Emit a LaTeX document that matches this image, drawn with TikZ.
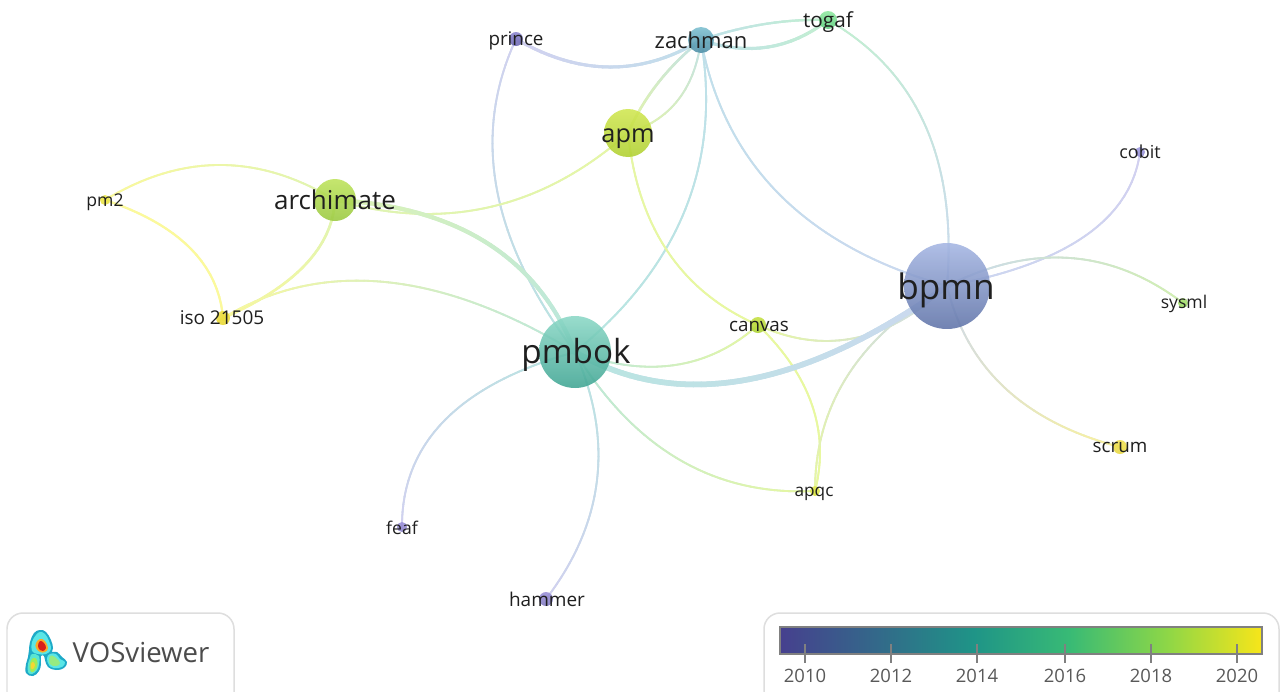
\documentclass[tikz,border=0pt]{standalone}
\usepackage{fontspec}
\setmainfont{Open Sans}
\usetikzlibrary{calc,decorations.markings}
\pgfdeclarelayer{back}
\pgfdeclarelayer{edges}
\pgfsetlayers{back,edges,main}
\pgfdeclarehorizontalshading{viridisbar}{100bp}{
  rgb(0bp)=(0.275,0.251,0.557);
  rgb(25bp)=(0.275,0.251,0.557);
  rgb(35bp)=(0.2,0.41,0.54);
  rgb(45bp)=(0.12,0.58,0.53);
  rgb(55bp)=(0.22,0.73,0.46);
  rgb(65bp)=(0.55,0.84,0.28);
  rgb(75bp)=(0.97,0.9,0.1);
  rgb(100bp)=(0.97,0.9,0.1)}
% edge tones
\definecolor{ePurple}{HTML}{D2D0F0}
\definecolor{eBlue}{HTML}{CCD8F0}
\definecolor{eSky}{HTML}{C0E0EA}
\definecolor{eTeal}{HTML}{B8E6E0}
\definecolor{eMint}{HTML}{C2F0D0}
\definecolor{eLime}{HTML}{DEF4B4}
\definecolor{eApm}{HTML}{E6F6A6}
\definecolor{eCanvas}{HTML}{E8F8A0}
\definecolor{eYellow}{HTML}{FBF99C}
\definecolor{eSys}{HTML}{D2F0B0}
\definecolor{eScrum}{HTML}{FAF29C}
\newcommand{\dotnode}[6]{% name, x, y, radius, top, bottom
  \definecolor{dottop}{HTML}{#5}\definecolor{dotbot}{HTML}{#6}%
  \node[dot,minimum size=#4*0.04cm,top color=dottop,bottom color=dotbot] (#1) at (#2,#3) {};}
\newcommand{\lbl}[5]{% name, x, y, size in pt, text
  \node[lab,font=\fontsize{#4}{#4}\selectfont] (#1) at (#2,#3) {#5};}
\newcommand{\lnk}[6]{% a, b, mid point, colour a, colour b, width
  \begin{pgfonlayer}{edges}
  \draw[edge,draw={#5!50!#4},line width=#6*0.02cm,
    gradlink={#4}{#5}{#6}]
   (#1.center) .. controls ($1.33333*(#3)-0.33333*(#2.center)$)
     and ($1.33333*(#3)-0.33333*(#1.center)$) .. (#2.center);
  \end{pgfonlayer}}
\tikzset{
  dot/.style={circle,draw=none,inner sep=0pt,opacity=0.88},
  edge/.style={line cap=butt},
  gradlink/.style n args={3}{postaction={decorate,decoration={markings,
    mark=between positions 0 and 1 step 0.16cm with {
      \pgfmathsetmacro\pctmix{min(100,100*(\pgfkeysvalueof{/pgf/decoration/mark info/distance from start}/\pgfdecoratedpathlength))}
      \draw[draw={#2!\pctmix!#1},line width=#3*0.02cm] (-0.09cm,0) -- (0.09cm,0);
    }}}},
  lab/.style={inner sep=0pt,text=black!88},
  panel/.style={draw=black!13,line width=0.03cm,rounded corners=0.32cm,fill=white},
  tick/.style={draw=black!50,line width=0.045cm},
  legendtext/.style={inner sep=0pt,text=black!65,font=\fontsize{10.5}{10.5}\selectfont}
}
\begin{document}
\begin{tikzpicture}[x=0.02cm,y=-0.02cm]
\useasboundingbox (0,0) rectangle (1280,691);
\begin{pgfonlayer}{back}
\fill[white] (0,0) rectangle (1280,691);
\end{pgfonlayer}
% nodes
\dotnode{pmbok}{575}{352}{36}{8BD8C6}{3FA593}
\dotnode{bpmn}{947}{286}{43}{A5B6E3}{5F73A8}
\dotnode{archimate}{335}{200}{21}{BDE35A}{9AC940}
\dotnode{apm}{628}{133}{24}{D0E650}{B0D030}
\dotnode{zachman}{701}{40}{13}{7CBFD0}{4A8CA5}
\dotnode{togaf}{828}{20}{9}{8FE89F}{60D080}
\dotnode{prince}{516}{39}{7}{8B85D0}{6A65B0}
\dotnode{canvas}{758}{325}{8}{C5E040}{A8D030}
\dotnode{pmtwo}{105}{200}{5}{EEEA50}{E8E040}
\dotnode{iso}{223}{318}{7}{EEDE40}{E8D830}
\dotnode{cobit}{1140}{152}{5}{A09CE0}{9088D0}
\dotnode{sysml}{1183}{303}{5}{A8E070}{98D860}
\dotnode{scrum}{1120}{447}{7}{F0E050}{E8D840}
\dotnode{apqc}{815}{491}{5}{E0E850}{D8E040}
\dotnode{feaf}{402}{527}{5}{9A90D8}{8A80C8}
\dotnode{hammer}{546}{599}{7}{9A90D8}{8078C0}
% links
\lnk{prince}{zachman}{610,67}{ePurple}{eSky}{3}
\lnk{prince}{pmbok}{497,190}{ePurple}{eTeal}{1.8}
\lnk{zachman}{togaf}{765,24}{eSky}{eMint}{2.2}
\lnk{zachman}{togaf}{768,47}{eSky}{eMint}{3}
\lnk{togaf}{bpmn}{925,125}{eMint}{eBlue}{1.8}
\lnk{zachman}{apm}{658,83}{eSky}{eApm}{2.4}
\lnk{zachman}{apm}{678,100}{eSky}{eApm}{1.8}
\lnk{zachman}{pmbok}{685,210}{eSky}{eTeal}{1.8}
\lnk{zachman}{bpmn}{780,195}{eSky}{eBlue}{1.8}
\lnk{apm}{archimate}{490,207}{eApm}{eLime}{1.8}
\lnk{apm}{canvas}{668,252}{eApm}{eCanvas}{1.8}
\lnk{archimate}{pmtwo}{220,165}{eLime}{eYellow}{1.8}
\lnk{archimate}{iso}{305,265}{eLime}{eYellow}{2.4}
\lnk{pmtwo}{iso}{190,248}{eYellow}{eYellow}{2}
\lnk{iso}{pmbok}{385,282}{eYellow}{eTeal}{1.8}
\lnk{archimate}{pmbok}{487,243}{eLime}{eTeal}{4}
\lnk{pmbok}{canvas}{675,365}{eTeal}{eCanvas}{1.8}
\lnk{canvas}{bpmn}{855,338}{eCanvas}{eBlue}{1.8}
\lnk{canvas}{apqc}{812,405}{eCanvas}{eCanvas}{1.8}
\lnk{apqc}{bpmn}{848,375}{eCanvas}{eBlue}{1.8}
\lnk{pmbok}{apqc}{680,460}{eTeal}{eCanvas}{1.8}
\lnk{pmbok}{bpmn}{745,380}{eTeal}{eBlue}{5.5}
\lnk{pmbok}{feaf}{445,420}{eTeal}{ePurple}{1.8}
\lnk{pmbok}{hammer}{597,480}{eTeal}{ePurple}{1.8}
\lnk{bpmn}{cobit}{1085,236}{eBlue}{ePurple}{1.8}
\lnk{bpmn}{sysml}{1070,258}{eBlue}{eSys}{1.8}
\lnk{bpmn}{scrum}{1005,388}{eBlue}{eScrum}{1.8}
% labels
\lbl{tpmbok}{576}{355}{18.9}{pmbok}
\lbl{tbpmn}{946}{290}{20}{bpmn}
\lbl{tarchimate}{335}{200}{14.8}{archimate}
\lbl{tapm}{628}{139}{14.4}{apm}
\lbl{tzachman}{701}{40}{12.5}{zachman}
\lbl{ttogaf}{828}{22}{11.8}{togaf}
\lbl{tprince}{516}{41}{10.7}{prince}
\lbl{tcanvas}{759}{326}{10.7}{canvas}
\lbl{tpmtwo}{105}{202}{10}{pm2}
\lbl{tiso}{222}{318}{10.8}{iso 21505}
\lbl{tcobit}{1140}{152}{10.2}{cobit}
\lbl{tsysml}{1184}{304}{10}{sysml}
\lbl{tscrum}{1120}{447}{10.7}{scrum}
\lbl{tapqc}{814}{494}{9.8}{apqc}
\lbl{tfeaf}{402}{528}{10}{feaf}
\lbl{thammer}{547}{599}{10.8}{hammer}
% legend panels
\begin{scope}
\clip (0,0) rectangle (1280,691);
\draw[panel] (7,613) rectangle (234,720);
\draw[panel] (764,613) rectangle (1279,720);
\end{scope}
% logo blobs
\fill[color={rgb,255:red,30;green,170;blue,200}] plot[smooth cycle,tension=.7] coordinates
  {(40,630) (46,632) (51,640) (53,648) (52,652) (57,652) (62,657) (67,662) (64,668) (56,670) (48,667) (45,660) (44,656) (41,656) (41,664) (39,671) (33,676) (26,673) (26,664) (28,657) (29,650) (30,642) (34,633)};
\fill[color={rgb,255:red,90;green,230;blue,230}] plot[smooth cycle,tension=.7] coordinates
  {(40,632) (45,634) (49,641) (51,649) (46,654) (38,654) (32,651) (32,642) (36,635)};
\fill[color={rgb,255:red,90;green,230;blue,230}] plot[smooth cycle,tension=.7] coordinates
  {(50,654) (56,654) (60,659) (65,662) (62,667) (54,668) (49,665) (47,658)};
\fill[color={rgb,255:red,150;green,235;blue,130}] plot[smooth cycle,tension=.7] coordinates
  {(50,656) (55,657) (60,663) (56,666) (50,664)};
\fill[color={rgb,255:red,90;green,230;blue,210}] plot[smooth cycle,tension=.7] coordinates
  {(32,654) (39,656) (39,664) (37,670) (32,674) (28,672) (28,664) (30,658)};
\fill[color={rgb,255:red,160;green,235;blue,90}] plot[smooth cycle,tension=.7] coordinates
  {(33,658) (37,660) (37,667) (33,672) (30,670) (30,663)};
\fill[color={rgb,255:red,245;green,215;blue,50}] plot[smooth cycle,tension=.7] coordinates
  {(33,662) (35,665) (33,669) (31,668) (31,664)};
\fill[color={rgb,255:red,250;green,170;blue,40}] plot[smooth cycle,tension=.7] coordinates
  {(40,639) (45,641) (48,648) (45,652) (40,652) (36,648) (36,643)};
\fill[color={rgb,255:red,215;green,30;blue,25}] plot[smooth cycle,tension=.7] coordinates
  {(40,641) (44,643) (46,648) (43,651) (40,650) (38,646)};
\node[inner sep=0pt,text=black!70,font=\fontsize{15.7}{15.7}\selectfont] (vos) at (141,652) {VOSviewer};
% colour bar
\shade[shading=viridisbar,draw=black!50,line width=0.05cm] (780,627) rectangle (1262,654);
\foreach \tx/\yr in {805/2010,891/2012,977/2014,1065/2016,1151/2018,1237/2020}{
  \draw[tick] (\tx,644) -- (\tx,663);
  \node[legendtext] (y\yr) at (\tx,676) {\yr};
}
\end{tikzpicture}
\end{document}
